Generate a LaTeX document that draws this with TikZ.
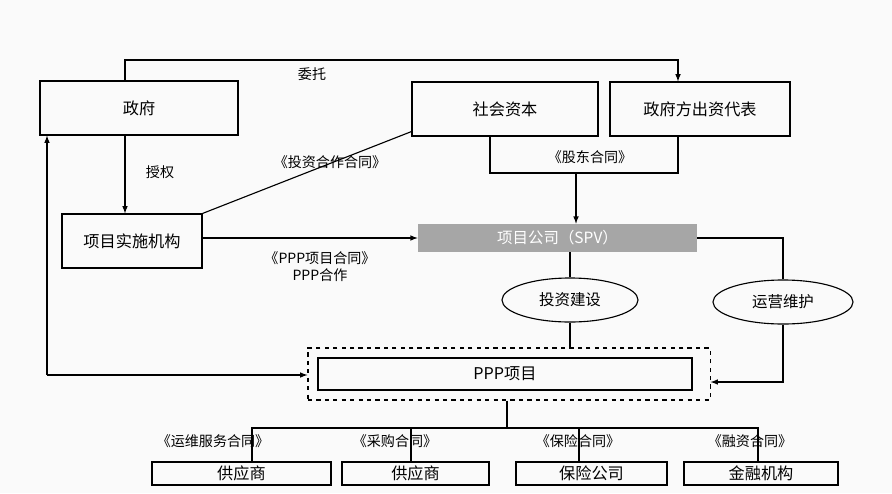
\documentclass[tikz,border=0pt]{standalone}
\usepackage{fontspec}
\setmainfont{Noto Sans CJK SC}
\usetikzlibrary{arrows}
\usetikzlibrary{calc}
\usetikzlibrary{shapes}
\tikzset{
  box/.style={draw, thick, minimum height=#1, inner sep=0pt, font=\fontsize{11.5}{13}\selectfont},
  box/.default={1.35cm},
  oval/.style={draw, thick, ellipse, minimum width=3.4cm, minimum height=1.1cm, font=\fontsize{11}{13}\selectfont},
  lbl/.style={font=\fontsize{10}{12}\selectfont, inner sep=1pt},
  link/.style={thick},
}

\begin{document}
\begin{tikzpicture}[x=0.025cm, y=-0.025cm, >=latex]

  \useasboundingbox[fill=gray!4] (0,0) rectangle (892,493);

  % Top row
  \node[box, minimum width=4.95cm] (Gov) at (139,108) {政府};
  \node[box, minimum width=4.65cm] (Cap) at (505,109) {社会资本};
  \node[box, minimum width=4.5cm] (Rep) at (700,109) {政府方出资代表};

  % Middle row
  \node[box, minimum width=3.5cm] (Agency) at (132,241) {项目实施机构};
  \node[fill=gray!70, text=white, minimum width=6.975cm, minimum height=0.7cm,
        inner sep=0pt, font=\fontsize{11}{13}\selectfont] (SPV) at (557.5,238) {项目公司（SPV）};

  \node[oval] (Build) at (570,300) {投资建设};
  \node[oval, minimum width=3.5cm] (Oper) at (783,302) {运营维护};

  % PPP project
  \node[draw, thick, dashed, minimum width=10.05cm, minimum height=1.3cm] (Outer) at (509,374) {};
  \node[box=0.8cm, minimum width=9.35cm] (Proj) at (505,374) {PPP项目};

  % Suppliers
  \node[box=0.575cm, minimum width=4.475cm] (S1) at (241.5,473.5) {供应商};
  \node[box=0.575cm, minimum width=3.675cm] (S2) at (415.5,473.5) {供应商};
  \node[box=0.575cm, minimum width=3.775cm] (S3) at (591.5,473.5) {保险公司};
  \node[box=0.575cm, minimum width=3.85cm] (S4) at (761,473.5) {金融机构};

  % Entrust
  \coordinate (TopL) at (125,60);
  \coordinate (TopR) at (678,60);
  \draw[link, ->] (Gov.north -| TopL) -- (TopL) -- (TopR) -- (Rep.north -| TopR);
  \node[lbl] at (312,74) {委托};

  % Authorize
  \draw[link, ->] (Gov.south -| TopL) -- (Agency.north -| TopL);
  \node[lbl] at (160,172) {授权};

  % Cooperation contract
  \draw[link] (Agency.north east) -- ($(Cap.south west)+(0,-5)$);
  \node[lbl] at (330,162) {《投资合作合同》};

  % Shareholder contract
  \coordinate (Share) at (576,173);
  \coordinate (ShareL) at (490,173);
  \coordinate (ShareR) at (678,173);
  \draw[link] (Cap.south -| ShareL) -- (ShareL) -- (ShareR) -- (Rep.south -| ShareR);
  \node[lbl] at (590,157) {《股东合同》};
  \draw[link, ->] (Share) -- (SPV.north -| Share);

  % PPP contract
  \draw[link, ->] (Agency.east |- SPV) -- (SPV.west);
  \node[lbl, align=center] at (320,267) {《PPP项目合同》\\PPP合作};

  % Construction
  \draw[link] (SPV.south -| Build) -- (Build.north);
  \draw[link] (Build.south) -- (Outer.north -| Build);

  % Operation
  \coordinate (OperIn) at (783,382);
  \draw[link] (SPV.east) -| (Oper.north);
  \draw[link, ->] (Oper.south) -- (OperIn) -- (Outer.east |- OperIn);

  % Government loop
  \coordinate (Corner) at (47,375);
  \draw[link, ->] (Corner) -- (Gov.south -| Corner);
  \draw[link, ->] (Corner) -- (Outer.west |- Corner);

  % Contracts to suppliers
  \coordinate (Hub) at (507,428);
  \coordinate (HubL) at (252,428);
  \coordinate (HubR) at (758,428);
  \draw[link] (Outer.south -| Hub) -- (Hub);
  \draw[link] (S1.north -| HubL) -- (HubL) -- (HubR) -- (S4.north -| HubR);
  \draw[link] (411,428) -- (S2.north -| 411,428);
  \draw[link] (579,428) -- (S3.north -| 579,428);
  \node[lbl] at (213,441) {《运维服务合同》};
  \node[lbl] at (395,441) {《采购合同》};
  \node[lbl] at (578,441) {《保险合同》};
  \node[lbl] at (750,441) {《融资合同》};

\end{tikzpicture}
\end{document}
